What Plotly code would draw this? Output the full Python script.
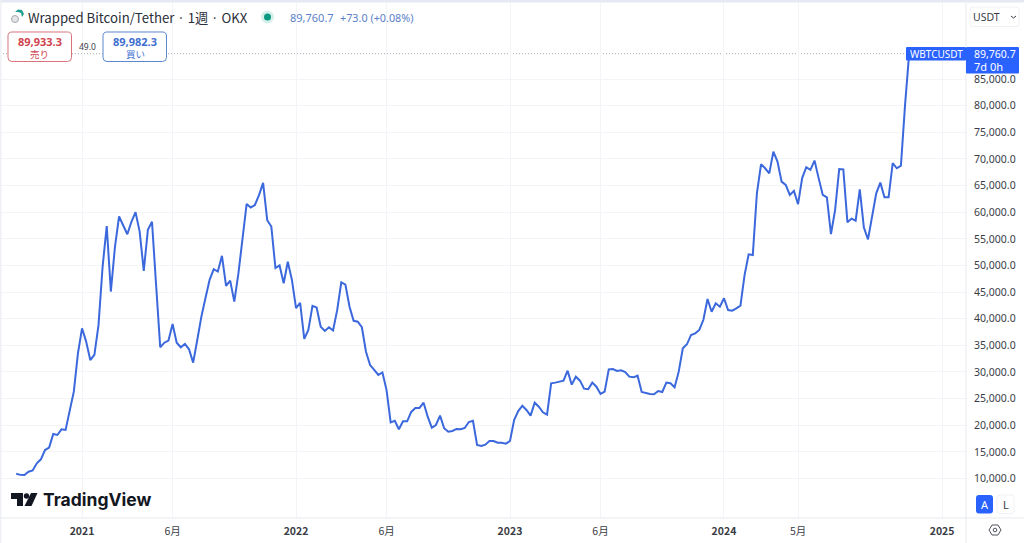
import pandas as pd
import plotly.graph_objects as go

W, H = 1024, 543
SYMBOL_LABEL = "WBTCUSDT"
start_date = "2020-09-14"
close_values = [
    10900, 10680, 10650, 11280, 11500, 12850, 13600, 15350, 15790, 18360,
    18170, 19240, 19110, 22860, 26300, 33500, 38200, 35700, 32250, 33200,
    38800, 49800, 57400, 45100, 53500, 59200, 57400, 55860, 58200, 60000,
    56350, 49000, 56700, 58200, 46300, 34640, 35500, 35900, 39000, 35500,
    34640, 35260, 34260, 31750, 36000, 40400, 43900, 47300, 49300, 48850,
    51800, 46150, 47150, 43200, 48500, 54500, 61550, 60900, 61350, 63200,
    65500, 58500, 57300, 49500, 50000, 46650, 50700, 47300, 42000, 43000,
    36200, 37900, 42400, 42100, 38500, 37700, 38400, 37800, 41600, 46850,
    46400, 42260, 39600, 39450, 38400, 33800, 31300, 30400, 29450, 29900,
    26600, 20550, 20850, 19240, 20740, 20740, 22500, 23240, 23240, 24230,
    21600, 19540, 20050, 21800, 19430, 18790, 18920, 19300, 19240, 19480,
    20610, 20850, 16290, 16100, 16350, 17040, 17040, 16720, 16720, 16540,
    17040, 20990, 22670, 23670, 22860, 21800, 24230, 23480, 22430, 21990,
    27880, 28000, 28180, 28370, 30240, 27620, 29120, 28370, 26860, 26750,
    28000, 27240, 25870, 26300, 30500, 30560, 30190, 30310, 30000, 29120,
    29000, 29300, 26240, 26000, 25870, 25810, 26430, 26240, 28000, 27880,
    27130, 30060, 34450, 35200, 36950, 37260, 37900, 39800, 43700, 41300,
    42900, 42260, 43840, 41640, 41510, 41950, 42450, 48200, 52100, 51970,
    63550, 69000, 68250, 67300, 71370, 69500, 65740, 65120, 63240, 64000,
    61500, 66400, 68450, 67950, 69700, 66400, 63240, 62800, 55900, 60400,
    68100, 68050, 58100, 58800, 58400, 64300, 57100, 54900, 59500, 63550,
    65550, 62800, 62800, 69200, 68250, 68750, 80100, 89760.7,
]
y_ticks = [10000, 15000, 20000, 25000, 30000, 35000, 40000, 45000, 50000, 55000,
           60000, 65000, 70000, 75000, 80000, 85000]
x_tick_dates = ["2021-01-04", "2021-06-07", "2022-01-03", "2022-06-06",
                "2023-01-02", "2023-06-05", "2024-01-01", "2024-05-06", "2025-01-06"]
x_tick_text = ["<b>2021</b>", "6月", "<b>2022</b>", "6月", "<b>2023</b>", "6月",
               "<b>2024</b>", "5月", "<b>2025</b>"]

FONT = "Noto Sans, Noto Sans CJK JP, sans-serif"
JP = "Noto Sans CJK JP, Noto Sans, sans-serif"
BLUE = "#2962ff"
LINE = "#3b68dc"
GRID = "#f3f4f7"
BORDER = "#e7e9ee"
TEXT = "#3a3d46"

PLOT_L, PLOT_R, PLOT_T, PLOT_B = 0, 966, 3, 518
PW, PH = PLOT_R - PLOT_L, PLOT_B - PLOT_T
PX_PER_WEEK = 4.115
X0_PX = 16.2
days_per_px = 7 / PX_PER_WEEK
t0 = pd.Timestamp(start_date)
dates = pd.date_range(t0, periods=len(close_values), freq="7D")
x_range = [t0 - pd.Timedelta(days=(X0_PX - PLOT_L) * days_per_px),
           t0 + pd.Timedelta(days=(PLOT_R - X0_PX) * days_per_px)]
val_per_px = 5000 / 26.63
y_range = [10000 + (478.5 - PLOT_B) * val_per_px, 10000 + (478.5 - PLOT_T) * val_per_px]


def px(x):
    return (x - PLOT_L) / PW


def py(y):
    return (PLOT_B - y) / PH


def path(points):
    return "M " + " L ".join(f"{px(a):.5f},{py(b):.5f}" for a, b in points) + " Z"


def rrect(x0, y0, x1, y1, r):
    # rounded rectangle in page pixels, as a paper-coordinate path
    rx, ry = r / PW, r / PH
    l, rt, t, b = px(x0), px(x1), py(y0), py(y1)
    return (f"M {l+rx:.5f},{t:.5f} L {rt-rx:.5f},{t:.5f} Q {rt:.5f},{t:.5f} {rt:.5f},{t-ry:.5f} "
            f"L {rt:.5f},{b+ry:.5f} Q {rt:.5f},{b:.5f} {rt-rx:.5f},{b:.5f} "
            f"L {l+rx:.5f},{b:.5f} Q {l:.5f},{b:.5f} {l:.5f},{b+ry:.5f} "
            f"L {l:.5f},{t-ry:.5f} Q {l:.5f},{t:.5f} {l+rx:.5f},{t:.5f} Z")


fig = go.Figure()
fig.add_trace(go.Scatter(x=dates, y=close_values, mode="lines",
                         line=dict(color=LINE, width=2), hoverinfo="skip", showlegend=False))

shapes = []


def box(x0, y0, x1, y1, r=0, fill="white", line=None, lw=1, layer="above"):
    shapes.append(dict(type="path", xref="paper", yref="paper", path=rrect(x0, y0, x1, y1, r),
                       fillcolor=fill, line=dict(color=line or fill, width=lw if line else 0), layer=layer))


def poly(points, fill, line=None, lw=1):
    shapes.append(dict(type="path", xref="paper", yref="paper", path=path(points), fillcolor=fill,
                       line=dict(color=line or fill, width=lw if line else 0), layer="above"))


def seg(x0, y0, x1, y1, color, lw=1):
    shapes.append(dict(type="line", xref="paper", yref="paper", x0=px(x0), x1=px(x1), y0=py(y0), y1=py(y1),
                       line=dict(color=color, width=lw), layer="above"))


def circ(cx, cy, r, fill, line=None, lw=1):
    shapes.append(dict(type="circle", xref="paper", yref="paper", x0=px(cx - r), x1=px(cx + r),
                       y0=py(cy - r), y1=py(cy + r), fillcolor=fill,
                       line=dict(color=line or fill, width=lw if line else 0), layer="above"))


annotations = []


def text(x, y, s, size=11, color=TEXT, anchor="left", family=FONT):
    nudge = {"left": -2, "right": 2, "center": 0}[anchor]
    annotations.append(dict(xref="paper", yref="paper", x=px(x + nudge), y=py(y), text=s, showarrow=False,
                            xanchor=anchor, yanchor="middle", align=anchor,
                            font=dict(size=size, color=color, family=family)))


# chrome strip and axis borders
box(0, 0, W, 2.5, fill="#e6e8f4")
box(0, 0, 1.5, H, fill="#eef0f5")
seg(966, 3, 966, H, BORDER)
seg(0, 518, 1024, 518, BORDER)

# last price line
shapes.append(dict(type="line", xref="paper", yref="y", x0=0, x1=px(906), y0=close_values[-1], y1=close_values[-1],
                   line=dict(color="#a9acb4", width=1, dash="1px,2px"), layer="below"))

# header
circ(15, 19, 3.5, "#e4e5e8", "#a4a7ad", 1)
poly([(15, 12), (18, 9.5), (22, 10), (24, 14), (22, 17), (21, 13), (18, 12)], "#1f9e92")
text(28, 17.5, "Wrapped Bitcoin/Tether · 1週 · OKX", size=13.2, color="#2a2e39", family=JP)
circ(267.5, 17, 6.5, "#d5f0ea")
circ(267.5, 17, 3.5, "#089981")
text(289.5, 17.5, "89,760.7", size=11, color="#5b7fc9")
text(340, 17.5, "+73.0 (+0.08%)", size=10.8, color="#5b7fc9")

# sell / buy boxes
box(8, 32, 71.5, 61.5, r=4, fill="white", line="#d9737b")
text(39.5, 41, "<b>89,933.3</b>", size=11, color="#d0444f", anchor="center")
text(39.5, 54, "売り", size=9.5, color="#d0444f", anchor="center", family=JP)
text(87.5, 46, "49.0", size=8.5, color="#3a3d46", anchor="center")
box(103, 32, 166.5, 61.5, r=4, fill="white", line="#5c86cf")
text(135, 41, "<b>89,982.3</b>", size=11, color="#3f6fd0", anchor="center")
text(135, 54, "買い", size=9.5, color="#3f6fd0", anchor="center", family=JP)

# last value labels
box(906, 47, 966, 60.5, r=1, fill=BLUE)
text(936, 53.5, SYMBOL_LABEL, size=10, color="white", anchor="center")
box(966, 47, 1019, 73.5, r=1, fill=BLUE)
text(1016, 53.5, f"{close_values[-1]:,.1f}", size=10.5, color="white", anchor="right")
text(974, 66, "7d 0h", size=11, color="white")

# currency selector
box(970, 7, 1019, 26.5, r=3, fill="white", line="#f0f1f4")
text(973, 17, "USDT", size=10.5, color=TEXT)
seg(1011, 16, 1013.5, 18, TEXT, 1)
seg(1013.5, 18, 1016, 16, TEXT, 1)

# A / L buttons
box(976, 495, 993, 513.5, r=3, fill=BLUE)
text(984.5, 504, "A", size=11, color="white", anchor="center")
box(997, 495, 1014, 513.5, r=3, fill="white", line="#f0f1f4")
text(1005.5, 504, "L", size=11, color=TEXT, anchor="center")

# settings icon
poly([(989, 530), (992, 525), (998, 525), (1001, 530), (998, 535), (992, 535)], "white", "#50535e", 1)
circ(995, 530, 1.8, "white", "#50535e", 1)

# TradingView mark
poly([(11, 493), (23, 493), (23, 506), (17, 506), (17, 499), (11, 499)], "#131722")
circ(26.5, 496, 2.7, "#131722")
poly([(31, 493), (37.5, 493), (31.5, 506), (24.5, 506)], "#131722")
text(43, 499.5, "<b>TradingView</b>", size=17.5, color="#131722", family="Inter, Noto Sans, sans-serif")

fig.update_layout(
    width=W, height=H, autosize=False,
    margin=dict(l=PLOT_L, r=W - PLOT_R, t=PLOT_T, b=H - PLOT_B, pad=0),
    paper_bgcolor="white", plot_bgcolor="white",
    font=dict(family=JP, size=10.5, color=TEXT),
    showlegend=False, shapes=shapes, annotations=annotations,
    xaxis=dict(type="date", range=x_range, tickmode="array", tickvals=x_tick_dates, ticktext=x_tick_text,
               showgrid=True, gridcolor=GRID, gridwidth=1, zeroline=False, showline=False,
               ticks="", ticklabelstandoff=5, tickfont=dict(size=10.5, color="#3a3d46", family=JP)),
    yaxis=dict(range=y_range, side="right", tickmode="array", tickvals=y_ticks, tickformat=",.1f",
               showgrid=True, gridcolor=GRID, gridwidth=1, zeroline=False, showline=False,
               ticks="", ticklabelstandoff=7, tickfont=dict(size=10.5, color="#3a3d46", family=FONT)),
)

fig.write_html("out.html", config=dict(displayModeBar=False, responsive=False),
               post_script="document.body.style.margin='0';document.body.style.overflow='hidden';")
